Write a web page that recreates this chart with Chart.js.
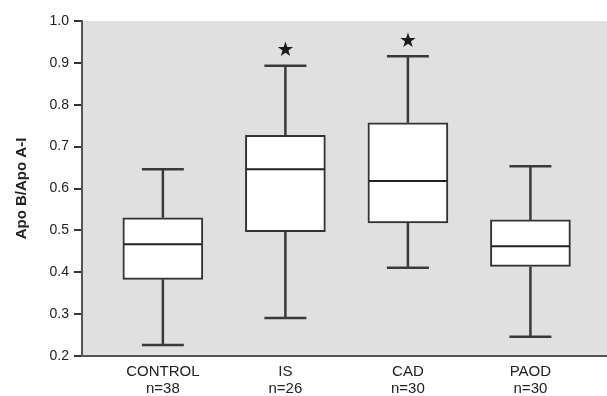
<!DOCTYPE html>
<html>
<head>
<meta charset="utf-8">
<script src="https://cdn.jsdelivr.net/npm/chart.js"></script>
<style>
  html, body { margin: 0; padding: 0; background: #fff; }
  #wrap { width: 607px; height: 396px; }
</style>
</head>
<body>
<div id="wrap"><canvas id="boxChart"></canvas></div>
<script>
// groups and their sample sizes
const groups = ['CONTROL', 'IS', 'CAD', 'PAOD'];
const sizes = ['n=38', 'n=26', 'n=30', 'n=30'];

// box plot values
const whiskerLow = [0.226, 0.291, 0.411, 0.246];
const q1 = [0.383, 0.497, 0.518, 0.414];
const median = [0.467, 0.646, 0.618, 0.462];
const q3 = [0.530, 0.727, 0.757, 0.525];
const whiskerHigh = [0.646, 0.893, 0.916, 0.653];

// significance stars (null = none)
const starAt = [null, 0.93, 0.95, null];

const yTicks = [0.2, 0.3, 0.4, 0.5, 0.6, 0.7, 0.8, 0.9, 1.0];

// grey plotting area
const bgPlugin = {
    id: 'plotBg',
    beforeDraw(chart) {
        const a = chart.chartArea;
        const ctx = chart.ctx;
        ctx.save();
        ctx.fillStyle = '#e0e0e0';
        ctx.fillRect(a.left, a.top, a.right - a.left, a.bottom - a.top);
        ctx.restore();
    }
};

// whiskers, caps, medians and stars
const boxPlugin = {
    id: 'boxExtras',
    afterDatasetsDraw(chart) {
        const ctx = chart.ctx;
        const xs = chart.scales.x;
        const ys = chart.scales.y;
        ctx.save();
        groups.forEach((g, i) => {
            const x = xs.getPixelForValue(i + 1);
            const yLow = ys.getPixelForValue(whiskerLow[i]);
            const yQ1 = ys.getPixelForValue(q1[i]);
            const yMed = ys.getPixelForValue(median[i]);
            const yQ3 = ys.getPixelForValue(q3[i]);
            const yHigh = ys.getPixelForValue(whiskerHigh[i]);

            ctx.strokeStyle = '#3a3a3a';
            ctx.lineWidth = 2.5;
            ctx.beginPath();
            ctx.moveTo(x, yQ3); ctx.lineTo(x, yHigh);
            ctx.moveTo(x, yQ1); ctx.lineTo(x, yLow);
            ctx.moveTo(x - 21, yHigh); ctx.lineTo(x + 21, yHigh);
            ctx.moveTo(x - 21, yLow); ctx.lineTo(x + 21, yLow);
            ctx.stroke();

            ctx.strokeStyle = '#222';
            ctx.lineWidth = 2;
            ctx.beginPath();
            ctx.moveTo(x - 39, yMed); ctx.lineTo(x + 39, yMed);
            ctx.stroke();

            if (starAt[i] !== null) {
                ctx.fillStyle = '#1a1a1a';
                ctx.font = '20px "DejaVu Sans"';
                ctx.textAlign = 'center';
                ctx.textBaseline = 'middle';
                ctx.fillText('\u2605', x, ys.getPixelForValue(starAt[i]));
            }
        });
        ctx.restore();
    }
};

new Chart(document.getElementById('boxChart'), {
    type: 'bar',
    data: {
        datasets: [{
            data: groups.map((g, i) => ({ x: i + 1, y: [q1[i], q3[i]] })),
            backgroundColor: '#ffffff',
            borderColor: '#333333',
            borderWidth: 2,
            borderSkipped: false,
            barThickness: 80
        }]
    },
    options: {
        responsive: true,
        maintainAspectRatio: false,
        animation: false,
        layout: { padding: { top: 21, right: 0, bottom: 0, left: 0 } },
        plugins: {
            legend: { display: false },
            tooltip: { enabled: false }
        },
        scales: {
            x: {
                type: 'linear',
                offset: false,
                min: 0.34,
                max: 4.625,
                afterBuildTicks: (scale) => {
                    scale.ticks = groups.map((g, i) => ({ value: i + 1 }));
                },
                afterFit: (scale) => { scale.height = 40; },
                grid: { display: false, tickLength: 0 },
                border: { display: true, color: '#555', width: 2 },
                ticks: {
                    autoSkip: false,
                    maxRotation: 0,
                    padding: 7,
                    color: '#222',
                    font: { family: 'Liberation Sans', size: 15, lineHeight: 1.15 },
                    callback: (v) => [groups[v - 1], sizes[v - 1]]
                }
            },
            y: {
                min: 0.2,
                max: 1.0,
                afterBuildTicks: (scale) => {
                    scale.ticks = yTicks.map(v => ({ value: v }));
                },
                afterFit: (scale) => { scale.width = 82; },
                grid: {
                    drawOnChartArea: false,
                    drawTicks: true,
                    tickLength: 8,
                    color: '#333',
                    lineWidth: 2
                },
                border: { display: true, color: '#555', width: 2 },
                ticks: {
                    padding: 5,
                    color: '#222',
                    font: { family: 'Liberation Sans', size: 14 },
                    callback: (v) => v.toFixed(1)
                },
                title: {
                    display: true,
                    text: 'Apo B/Apo A-I',
                    color: '#222',
                    font: { family: 'Liberation Sans', size: 15, weight: 'bold' },
                    padding: { top: 13, bottom: 0 }
                }
            }
        }
    },
    plugins: [bgPlugin, boxPlugin]
});
</script>
</body>
</html>
